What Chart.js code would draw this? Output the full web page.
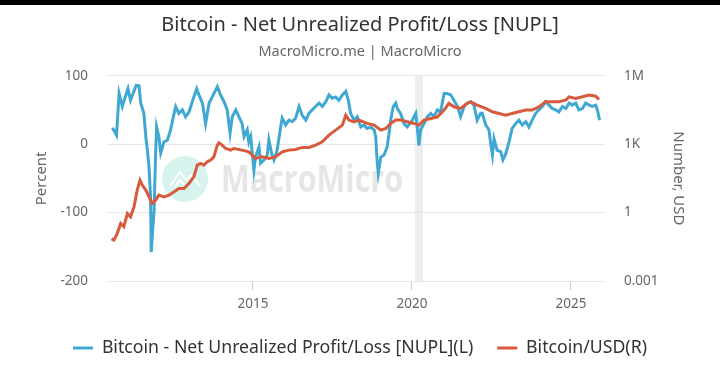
<!DOCTYPE html>
<html><head><meta charset="utf-8">
<script src="https://cdn.jsdelivr.net/npm/chart.js@4/dist/chart.umd.min.js"></script>
<style>
html,body{margin:0;padding:0;background:#fff;}
#wrap{position:relative;width:720px;height:381px;overflow:hidden;}
#bar{position:absolute;left:0;top:0;width:720px;height:5px;background:#000;}
canvas{display:block}
</style></head><body>
<div id="wrap"><canvas id="c" width="720" height="381"></canvas><div id="bar"></div></div>
<script>
// ---- data ----
const nuplYears = [2010.58,2010.71,2010.79,2010.89,2010.97,2011.07,2011.15,2011.33,2011.42,2011.47,2011.57,2011.63,2011.68,2011.73,2011.78,2011.80,2011.89,2011.94,2011.97,2012.04,2012.10,2012.20,2012.31,2012.41,2012.52,2012.57,2012.67,2012.78,2012.88,2012.99,2013.14,2013.23,2013.30,2013.41,2013.51,2013.62,2013.72,2013.88,2013.98,2014.09,2014.19,2014.28,2014.35,2014.46,2014.56,2014.66,2014.72,2014.82,2014.87,2014.93,2014.98,2015.03,2015.08,2015.19,2015.24,2015.35,2015.45,2015.50,2015.59,2015.66,2015.76,2015.87,2015.92,2016.03,2016.13,2016.24,2016.34,2016.45,2016.55,2016.66,2016.76,2016.86,2016.97,2017.08,2017.18,2017.29,2017.39,2017.49,2017.60,2017.70,2017.81,2017.92,2018.00,2018.07,2018.18,2018.28,2018.39,2018.49,2018.59,2018.70,2018.81,2018.86,2018.91,2018.94,2019.02,2019.12,2019.22,2019.28,2019.33,2019.41,2019.49,2019.54,2019.64,2019.75,2019.85,2020.01,2020.12,2020.17,2020.22,2020.27,2020.38,2020.48,2020.59,2020.69,2020.80,2020.90,2021.01,2021.11,2021.22,2021.32,2021.43,2021.53,2021.64,2021.74,2021.85,2021.95,2022.05,2022.16,2022.21,2022.32,2022.42,2022.47,2022.53,2022.58,2022.68,2022.79,2022.86,2022.95,2023.05,2023.15,2023.26,2023.36,2023.47,2023.58,2023.68,2023.78,2023.89,2023.99,2024.10,2024.20,2024.31,2024.41,2024.52,2024.62,2024.73,2024.84,2024.94,2025.04,2025.15,2025.25,2025.36,2025.46,2025.57,2025.67,2025.78,2025.83,2025.90];
const nuplValues = [24,13,74,55,67,81,64,86,85,60,45,11,-9,-33,-77,-158,-97,-13,25,11,-13,3,6,21,45,55,45,50,40,47,69,81,72,60,30,60,69,84,72,62,50,16,40,50,40,30,11,21,3,11,-14,-38,-19,-4,-28,-23,-16,6,-14,-23,-9,25,38,28,35,33,38,55,42,35,45,50,55,60,55,62,72,67,69,64,72,77,64,45,35,40,25,28,23,25,21,11,-28,-43,-19,-16,-4,16,35,55,60,52,45,30,25,35,45,23,-2,21,30,40,45,40,50,47,74,74,72,64,55,40,55,60,62,57,35,45,45,28,21,3,-16,8,-9,-11,-23,-14,3,23,30,35,28,33,25,35,45,50,55,62,57,52,50,47,55,52,60,57,60,50,52,60,57,55,57,50,35];
const priceYears = [2010.55,2010.63,2010.73,2010.84,2010.94,2011.05,2011.15,2011.26,2011.36,2011.45,2011.52,2011.63,2011.73,2011.83,2011.94,2012.04,2012.20,2012.36,2012.52,2012.67,2012.83,2012.99,2013.14,2013.25,2013.36,2013.46,2013.56,2013.67,2013.77,2013.88,2013.93,2014.03,2014.14,2014.30,2014.40,2014.66,2014.87,2015.08,2015.29,2015.50,2015.71,2015.92,2016.13,2016.34,2016.55,2016.76,2016.97,2017.18,2017.39,2017.60,2017.81,2017.92,2018.02,2018.18,2018.33,2018.59,2018.81,2019.02,2019.18,2019.33,2019.49,2019.64,2019.85,2020.06,2020.22,2020.38,2020.59,2020.80,2021.01,2021.16,2021.32,2021.53,2021.74,2021.85,2022.05,2022.32,2022.53,2022.74,2022.95,2023.15,2023.36,2023.58,2023.78,2023.99,2024.20,2024.41,2024.62,2024.83,2024.94,2025.15,2025.36,2025.57,2025.78,2025.88];
const priceValues = [0.07,0.062,0.12,0.33,0.24,0.91,0.65,1.8,9.7,26,16,9.7,4.9,2.5,3.5,5.8,4.9,5.8,8.1,11.4,11.4,19,37,120,143,120,168,199,277,904,1140,904,646,546,646,546,459,236,277,236,277,459,546,586,717,717,904,1262,2483,4113,6813,18700,11300,9510,11300,8090,6813,4113,4886,8090,11300,11300,9510,8090,6813,11300,13400,15700,31000,61000,43200,36800,61000,71600,51300,36800,26100,22200,18700,22200,26100,31000,31000,43200,71600,71600,71600,85100,119000,101000,119000,141000,127000,91200];
const xTickYears = [2015, 2020, 2025];
const xRange = [2010.41, 2026.07];
const leftTicks = [-200, -100, 0, 100];
const rightTicks = [0.001, 1, 1000, 1000000];
const rightTickLabels = ['0.001', '1', '1K', '1M'];
const shadedBands = [[2020.1, 2020.35]];
const seriesNames = ['Bitcoin - Net Unrealized Profit/Loss [NUPL](L)', 'Bitcoin/USD(R)'];

const FONT = '"Noto Sans"';
const BLUE = '#3fa8d2', RED = '#d8593b';

const bgPlugin = {
  id: 'bg',
  beforeDraw(chart) {
    const {ctx, chartArea: a, scales: {x}} = chart;
    ctx.save();
    ctx.fillStyle = '#eeeeee';
    shadedBands.forEach(([s, e]) => {
      const x1 = x.getPixelForValue(s), x2 = x.getPixelForValue(e);
      ctx.fillRect(x1, a.top, x2 - x1, a.bottom - a.top);
    });
    // watermark
    const cx = 185, cy = 179, r = 23;
    ctx.fillStyle = '#d6f3ed';
    ctx.beginPath(); ctx.arc(cx, cy, r, 0, Math.PI * 2); ctx.fill();
    ctx.strokeStyle = '#ffffff'; ctx.lineWidth = 2; ctx.lineJoin = 'round';
    ctx.beginPath();
    ctx.moveTo(cx - 15, cy + 7); ctx.lineTo(cx - 5, cy - 7); ctx.lineTo(cx + 1, cy + 1);
    ctx.lineTo(cx + 6, cy - 4); ctx.lineTo(cx + 15, cy + 7);
    ctx.stroke();
    ctx.beginPath();
    ctx.moveTo(cx - 10, cy + 8); ctx.lineTo(cx - 5, cy + 1); ctx.lineTo(cx + 1, cy + 8);
    ctx.stroke();
    ctx.fillStyle = '#e6e6e6';
    ctx.font = 'bold 30px "Open Sans"';
    const w = ctx.measureText('MacroMicro').width;
    const size = 30 * 182 / w;
    ctx.font = 'bold ' + size.toFixed(1) + 'px "Open Sans"';
    ctx.textBaseline = 'middle';
    ctx.textAlign = 'left';
    ctx.translate(221, 181);
    ctx.scale(1, 1.25);
    ctx.fillText('MacroMicro', 0, 0);
    ctx.restore();
  }
};

const chart = new Chart(document.getElementById('c'), {
  type: 'line',
  data: {
    datasets: [
      {
        label: seriesNames[0],
        data: nuplYears.map((t, i) => ({x: t, y: nuplValues[i]})),
        borderColor: BLUE, backgroundColor: BLUE, borderWidth: 3,
        pointRadius: 0, tension: 0, yAxisID: 'yL', order: 1
      },
      {
        label: seriesNames[1],
        data: priceYears.map((t, i) => ({x: t, y: priceValues[i]})),
        borderColor: RED, backgroundColor: RED, borderWidth: 3,
        pointRadius: 0, tension: 0, yAxisID: 'yR', order: 0
      }
    ]
  },
  options: {
    responsive: false,
    animation: false,
    devicePixelRatio: 1,
    layout: {padding: {top: 0, bottom: 14.2, left: 0, right: 0}},
    plugins: {
      tooltip: {enabled: false},
      title: {
        display: true,
        text: 'Bitcoin - Net Unrealized Profit/Loss [NUPL]',
        color: '#333333',
        font: {family: FONT, size: 20, weight: 'normal', lineHeight: 1.2},
        padding: {top: 13, bottom: 0}
      },
      subtitle: {
        display: true,
        text: 'MacroMicro.me | MacroMicro',
        color: '#666666',
        font: {family: FONT, size: 14.5, weight: 'normal', lineHeight: 1.2},
        padding: {top: 6, bottom: 15.3}
      },
      legend: {
        position: 'bottom',
        labels: {
          color: '#333333',
          font: {family: FONT, size: 17.7},
          boxWidth: 20, boxHeight: 3,
          padding: 24,
          sort: (a, b) => a.datasetIndex - b.datasetIndex,
          generateLabels: (ch) => Chart.defaults.plugins.legend.labels.generateLabels(ch).map(l => Object.assign(l, {lineWidth: 0}))
        }
      }
    },
    scales: {
      x: {
        type: 'linear',
        min: xRange[0], max: xRange[1],
        afterBuildTicks: (s) => { s.ticks = xTickYears.map(v => ({value: v})); },
        afterFit: (s) => { s.height = 34.1; },
        ticks: {
          color: '#666666', font: {family: FONT, size: 13.5}, padding: 6,
          maxRotation: 0, autoSkip: false,
          callback: (v) => String(v)
        },
        grid: {drawOnChartArea: false, drawTicks: true, tickLength: 9, color: '#cccccc'},
        border: {display: false}
      },
      yL: {
        type: 'linear', position: 'left',
        min: -200, max: 100,
        afterBuildTicks: (s) => { s.ticks = leftTicks.map(v => ({value: v})); },
        afterFit: (s) => { s.width = 107; },
        ticks: {color: '#666666', font: {family: FONT, size: 13.5}, padding: 19},
        grid: {color: '#e6e6e6', drawTicks: false, lineWidth: 1},
        border: {display: false},
        title: {display: true, text: 'Percent', color: '#666666', font: {family: FONT, size: 15}, padding: {top: 33, bottom: 0}}
      },
      yR: {
        type: 'logarithmic', position: 'right',
        min: 0.001, max: 1000000,
        afterBuildTicks: (s) => { s.ticks = rightTicks.map(v => ({value: v})); },
        afterFit: (s) => { s.width = 115; },
        ticks: {
          color: '#666666', font: {family: FONT, size: 13.5}, padding: 19,
          callback: (v) => rightTickLabels[rightTicks.indexOf(v)]
        },
        grid: {display: false, drawTicks: false},
        border: {display: false},
        title: {display: true, text: 'Number, USD', color: '#666666', font: {family: FONT, size: 15}, padding: {top: 33, bottom: 0}}
      }
    }
  },
  plugins: [bgPlugin]
});
</script>
</body></html>
